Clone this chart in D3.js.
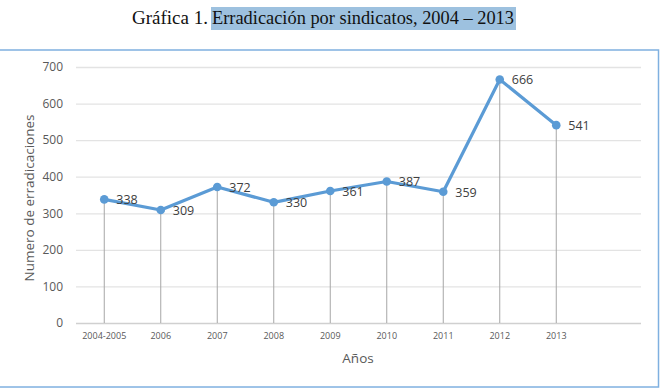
<!DOCTYPE html>
<html>
<head>
<meta charset="utf-8">
<script src="https://cdn.jsdelivr.net/npm/d3@7"></script>
<style>
  body { margin: 0; background: #fff; }
  svg { display: block; }
  .title { font-family: "Liberation Serif", "DejaVu Serif", serif; font-size: 18px; fill: #111; }
  .tick text { font-family: "Open Sans", "Liberation Sans", sans-serif; fill: #595959; }
  .lbl { font-family: "Open Sans", "Liberation Sans", sans-serif; font-size: 12.5px; fill: #404040; }
  .axisTitle { font-family: "Open Sans", "Liberation Sans", sans-serif; font-size: 13.5px; fill: #595959; }
</style>
</head>
<body>
<div class="chart"></div>
<script>
const width = 660;
const height = 389;

// data
const years = ['2004-2005', '2006', '2007', '2008', '2009', '2010', '2011', '2012', '2013'];
const erradicaciones = [338, 309, 372, 330, 361, 387, 359, 666, 541];
const yTicks = [0, 100, 200, 300, 400, 500, 600, 700];

const plot = { left: 76, right: 641, top: 67, bottom: 323 };

const svg = d3.select('.chart').append('svg')
    .attr('width', width)
    .attr('height', height);

/*   title with highlighted part   */
const titleA = 'Gráfica 1. ';
const titleB = 'Erradicación por sindicatos, 2004 – 2013';
const titleA_w = 80;   // widths (Palatino is wider than what we have)
const titleB_w = 302;
svg.append('rect')
    .attr('x', 132 + titleA_w - 1)
    .attr('y', 7)
    .attr('width', titleB_w + 3)
    .attr('height', 23)
    .attr('fill', '#9dc1df');
svg.append('text')
    .attr('class', 'title')
    .attr('x', 132)
    .attr('y', 24)
    .attr('textLength', titleA_w - 4)
    .attr('lengthAdjust', 'spacingAndGlyphs')
    .text(titleA);
svg.append('text')
    .attr('class', 'title')
    .attr('x', 132 + titleA_w)
    .attr('y', 24)
    .attr('textLength', titleB_w)
    .attr('lengthAdjust', 'spacingAndGlyphs')
    .text(titleB);

/*   outer frame   */
svg.append('rect')
    .attr('x', -2)
    .attr('y', 50)
    .attr('width', 660.5)
    .attr('height', 337)
    .attr('fill', 'none')
    .attr('stroke', '#7fb0e0')
    .attr('stroke-width', 1.5);

/*   scales   */
// last band kept empty, like in the original sheet
const xScale = d3.scaleBand()
    .domain(years.concat(['']))
    .range([plot.left, plot.right]);
const xc = (d) => xScale(d) + xScale.bandwidth() / 2;

const yScale = d3.scaleLinear()
    .domain([0, 700])
    .range([plot.bottom, plot.top]);

/*   grid + y axis   */
const yAxis = svg.append('g')
    .attr('transform', `translate(${plot.left},0)`)
    .call(d3.axisLeft(yScale).tickValues(yTicks).tickSize(-(plot.right - plot.left)).tickPadding(13));
yAxis.select('.domain').remove();
yAxis.selectAll('.tick line').attr('stroke', (d) => d === 0 ? '#d0d0d0' : '#e3e3e3').attr('stroke-width', 1.3);
yAxis.selectAll('.tick text').attr('font-size', 12);

/*   x axis   */
const xAxis = svg.append('g')
    .attr('transform', `translate(0,${plot.bottom})`)
    .call(d3.axisBottom(xScale).tickSize(0).tickPadding(10));
xAxis.select('.domain').remove();
xAxis.selectAll('.tick text').attr('font-size', 9);

/*   drop lines   */
svg.append('g').selectAll('line')
    .data(erradicaciones)
    .enter()
    .append('line')
    .attr('x1', (d, i) => xc(years[i]))
    .attr('x2', (d, i) => xc(years[i]))
    .attr('y1', (d) => yScale(d))
    .attr('y2', yScale(0))
    .attr('stroke', '#a6a6a6')
    .attr('stroke-width', 1);

/*   line + markers   */
const line = d3.line()
    .x((d, i) => xc(years[i]))
    .y((d) => yScale(d));
svg.append('path')
    .datum(erradicaciones)
    .attr('d', line)
    .attr('fill', 'none')
    .attr('stroke', '#5b9bd5')
    .attr('stroke-width', 3.2)
    .attr('stroke-linejoin', 'round');

svg.append('g').selectAll('circle')
    .data(erradicaciones)
    .enter()
    .append('circle')
    .attr('cx', (d, i) => xc(years[i]))
    .attr('cy', (d) => yScale(d))
    .attr('r', 4.3)
    .attr('fill', '#5b9bd5');

/*   data labels   */
svg.append('g').selectAll('text')
    .data(erradicaciones)
    .enter()
    .append('text')
    .attr('class', 'lbl')
    .attr('x', (d, i) => xc(years[i]) + 12)
    .attr('y', (d) => yScale(d) + 5)
    .text((d) => d);

/*   axis titles   */
svg.append('text')
    .attr('class', 'axisTitle')
    .attr('text-anchor', 'middle')
    .attr('transform', `translate(34,${(plot.top + plot.bottom) / 2 + 3}) rotate(-90)`)
    .text('Numero de erradicaciones');

svg.append('text')
    .attr('class', 'axisTitle')
    .attr('text-anchor', 'middle')
    .attr('x', 358)
    .attr('y', 363)
    .text('Años');
</script>
</body>
</html>
